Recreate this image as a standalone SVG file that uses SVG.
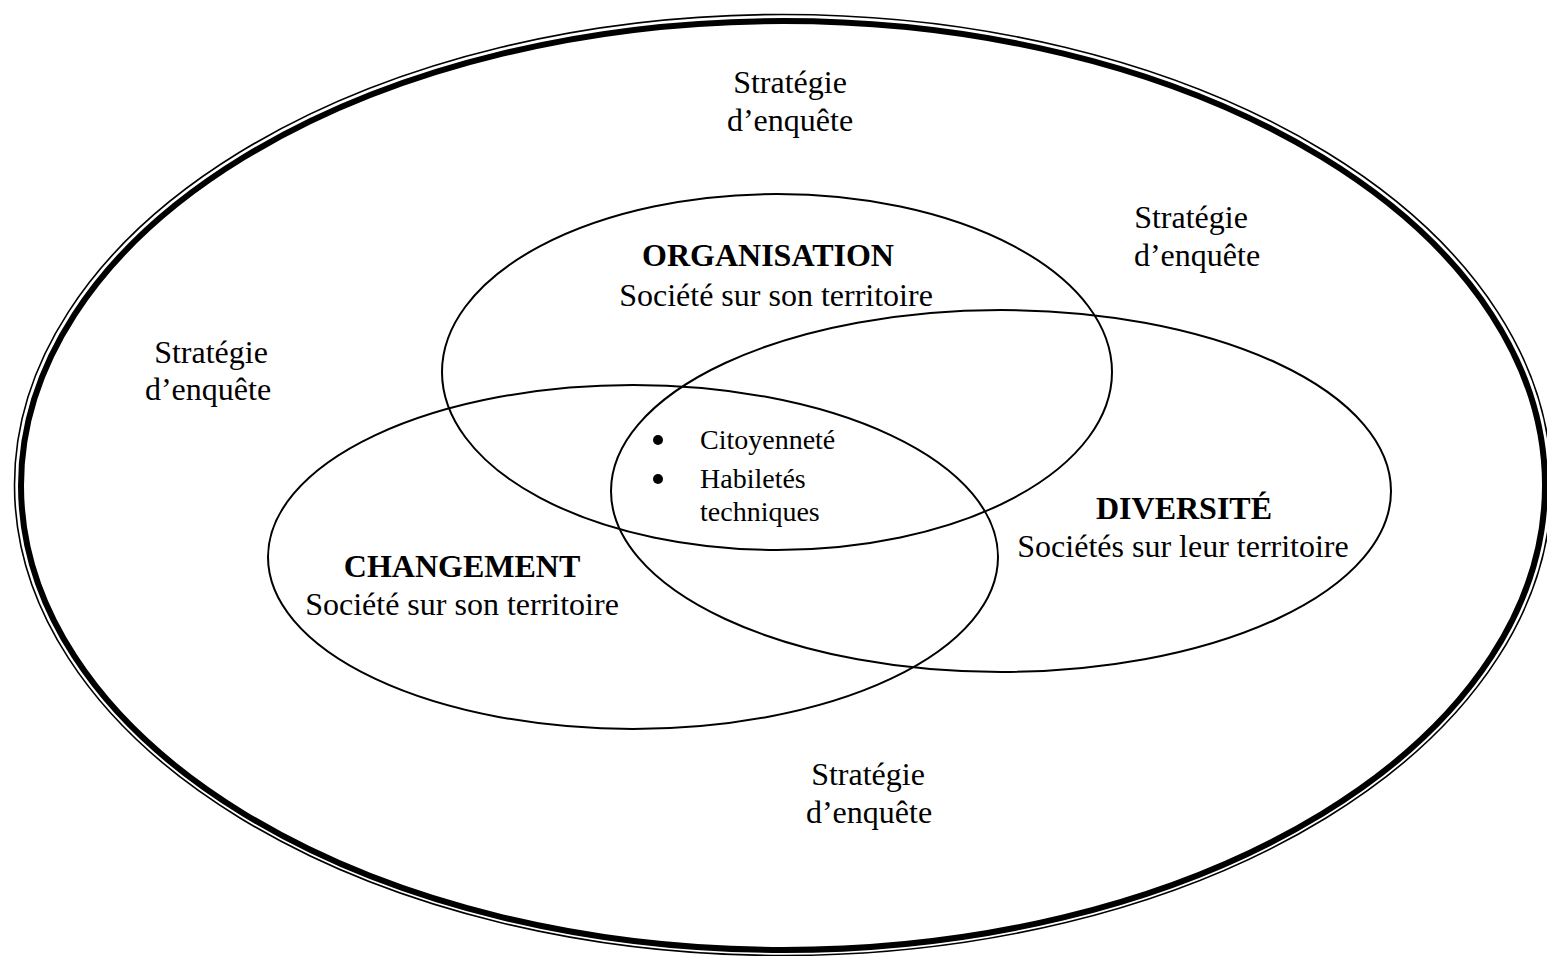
<svg xmlns="http://www.w3.org/2000/svg" width="1547" height="956" viewBox="0 0 1547 956">
<style>
.t{font-family:"Liberation Serif","Times New Roman",serif;font-size:32px;fill:#000;text-anchor:middle}
.b{font-weight:bold}
.s{font-family:"Liberation Serif","Times New Roman",serif;font-size:28px;fill:#000}
.e{fill:none;stroke:#000;stroke-width:2}
</style>
<rect width="1547" height="956" fill="#fff"/>
<g id="outer">
<ellipse cx="783" cy="485" rx="768.5" ry="470.5" fill="none" stroke="#000" stroke-width="1.6"/>
<ellipse cx="783" cy="485.5" rx="762" ry="464.5" fill="none" stroke="#000" stroke-width="6"/>
</g>
<g id="organisation">
<ellipse class="e" cx="777" cy="372" rx="335" ry="178"/>
<text class="t b" x="768" y="266">ORGANISATION</text>
<text class="t" x="776" y="306">Société sur son territoire</text>
</g>
<g id="diversite">
<ellipse class="e" cx="1001" cy="491" rx="390" ry="181"/>
<text class="t b" x="1184" y="519">DIVERSITÉ</text>
<text class="t" x="1183" y="557">Sociétés sur leur territoire</text>
</g>
<g id="changement">
<ellipse class="e" cx="633" cy="557" rx="365" ry="172"/>
<text class="t b" x="462" y="577">CHANGEMENT</text>
<text class="t" x="462" y="615">Société sur son territoire</text>
</g>
<g id="centre">
<circle cx="658" cy="440" r="5"/>
<circle cx="658" cy="479" r="5"/>
<text class="s" x="700" y="449">Citoyenneté</text>
<text class="s" x="700" y="488">Habiletés</text>
<text class="s" x="700" y="521">techniques</text>
</g>
<g id="strategie-haut">
<text class="t" x="790" y="93">Stratégie</text>
<text class="t" x="790" y="131">d’enquête</text>
</g>
<g id="strategie-droite">
<text class="t" x="1191" y="228">Stratégie</text>
<text class="t" x="1197" y="266">d’enquête</text>
</g>
<g id="strategie-gauche">
<text class="t" x="211" y="363">Stratégie</text>
<text class="t" x="208" y="400">d’enquête</text>
</g>
<g id="strategie-bas">
<text class="t" x="868" y="785">Stratégie</text>
<text class="t" x="869" y="823">d’enquête</text>
</g>
<g id="connectors"></g>
</svg>
